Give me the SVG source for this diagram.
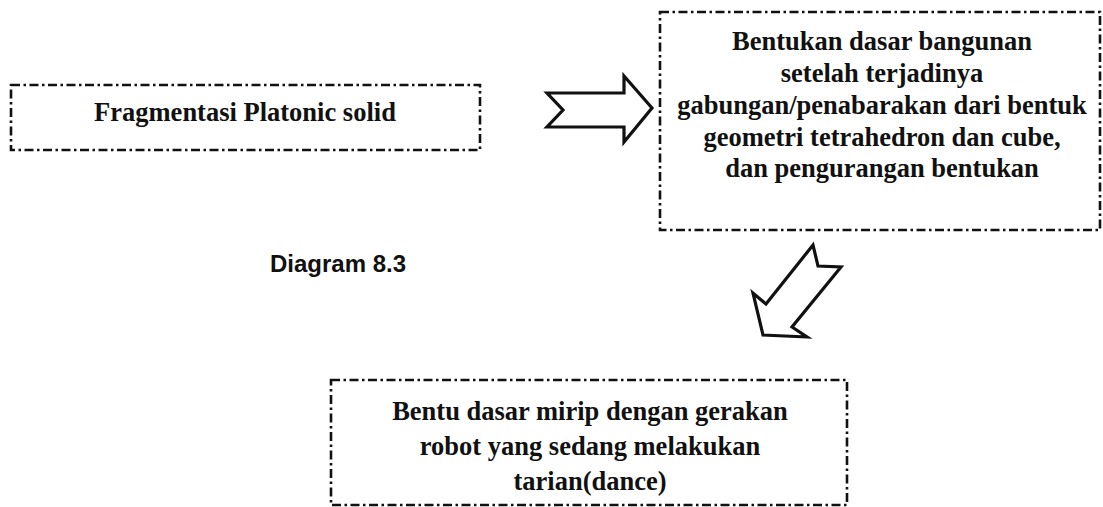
<svg xmlns="http://www.w3.org/2000/svg" width="1103" height="507" viewBox="0 0 1103 507">
<style>
.box{fill:none;stroke:#111;stroke-width:2.6;stroke-dasharray:9 3.5 2.5 3.5}
.t{font-family:"Liberation Serif","Times New Roman",serif;font-weight:bold;font-size:26.5px;fill:#111;text-anchor:middle}
.arrow{fill:#fff;stroke:#111;stroke-width:3.2;stroke-linejoin:miter}
.cap{font-family:"Liberation Sans",Arial,sans-serif;font-weight:bold;font-size:24px;fill:#111}
</style>
<rect width="1103" height="507" fill="#fff"/>
<g id="node-fragmentasi">
<rect class="box" x="11" y="85" width="469" height="65"/>
<text class="t" x="245" y="121">Fragmentasi Platonic solid</text>
</g>
<g id="node-bentukan">
<rect class="box" x="660" y="12" width="440" height="218"/>
<text class="t" x="882" y="50">Bentukan dasar bangunan</text>
<text class="t" x="882" y="82">setelah terjadinya</text>
<text class="t" x="882" y="114">gabungan/penabarakan dari bentuk</text>
<text class="t" x="882" y="146">geometri tetrahedron dan cube,</text>
<text class="t" x="882" y="177">dan pengurangan bentukan</text>
</g>
<g id="node-bentu">
<rect class="box" x="331" y="380" width="516" height="125"/>
<text class="t" x="590" y="420">Bentu dasar mirip dengan gerakan</text>
<text class="t" x="590" y="455">robot yang sedang melakukan</text>
<text class="t" x="590" y="490">tarian(dance)</text>
</g>
<g id="caption">
<text class="cap" x="270" y="272">Diagram 8.3</text>
</g>
<g id="connectors">
<polygon class="arrow" points="547,93 624,93 624,76 652,108 624,142 624,127 547,127 563,110"/>
<polygon class="arrow" points="813,245 818,266 841,267 792,327 807,337 763,335 753,293 766,304"/>
</g>
</svg>
